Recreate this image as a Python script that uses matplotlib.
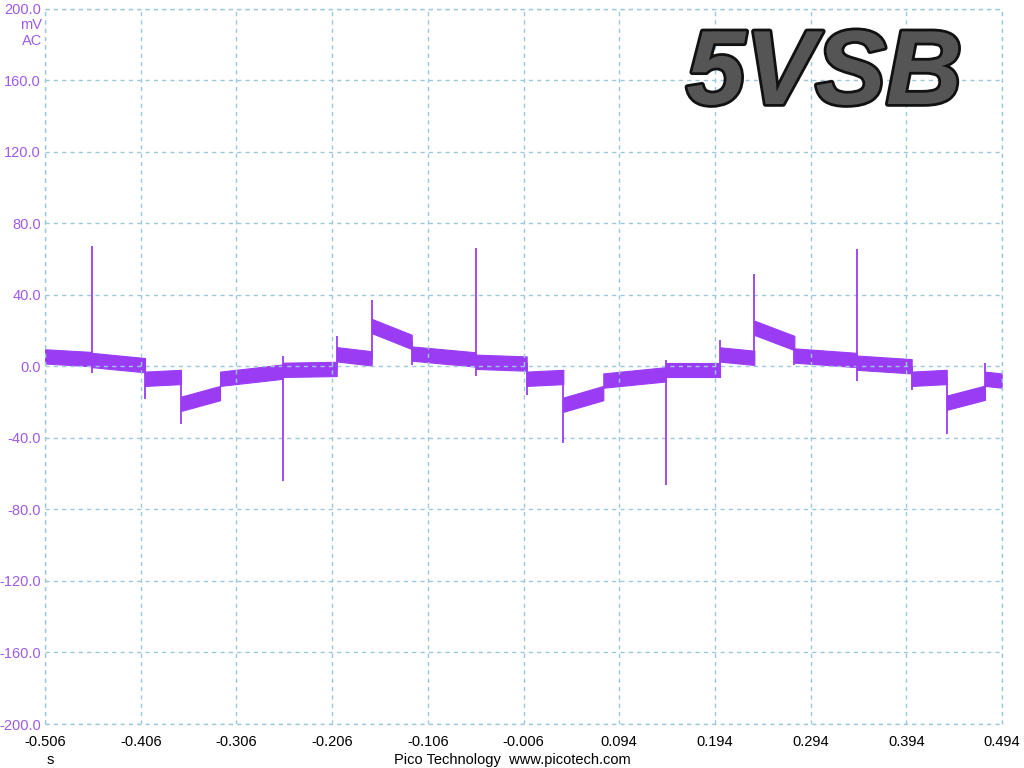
import matplotlib
matplotlib.use("Agg")
import matplotlib.pyplot as plt
import matplotlib.patheffects as pe

# ---- data ----
# segments of the noisy band: start time, end time, centre level at start, centre level at end (mV)
seg_t0 = [-0.506, -0.4572, -0.4015, -0.3639, -0.3231, -0.2573, -0.2012, -0.1646, -0.1228,
          -0.0560, -0.0027, 0.0356, 0.0774, 0.1429, 0.1993, 0.2352, 0.2770, 0.3422,
          0.3996, 0.4362, 0.4762]
seg_t1 = [-0.4572, -0.4015, -0.3639, -0.3231, -0.2573, -0.2012, -0.1646, -0.1228, -0.0560,
          -0.0027, 0.0356, 0.0774, 0.1429, 0.1993, 0.2352, 0.2770, 0.3422, 0.3996,
          0.4362, 0.4762, 0.4937]
seg_v0 = [5.5, 3.5, -7.0, -21.0, -7.0, -2.0, 6.7, 22.5, 7.1,
          2.5, -7.0, -21.5, -8.0, -2.0, 6.6, 21.5, 6.0, 2.0,
          -7.0, -20.4, -7.0]
seg_v1 = [4.0, 0.6, -6.0, -15.0, -3.0, -1.5, 4.4, 13.6, 3.8,
          1.5, -6.0, -15.0, -4.5, -2.0, 4.7, 13.0, 3.5, 0.0,
          -6.0, -14.8, -8.0]

# spikes: time, lowest value, highest value (mV)
spike_t = [-0.4572, -0.4015, -0.3639, -0.2573, -0.2012, -0.1646, -0.1228, -0.0560, -0.0027,
           0.0356, 0.1429, 0.1993, 0.2352, 0.2770, 0.3422, 0.3996, 0.4362, 0.4762]
spike_lo = [-4, -18.5, -32.5, -64, -2, 4, 0.5, -5.4, -16,
            -43, -66.6, -2, 4.7, 0.5, -8.2, -13.4, -38, -14.8]
spike_hi = [67, 3, -6, 6, 17, 37, 14, 66, 2,
            -6, 3.4, 14.5, 51.5, 13, 65.8, 0, -6, 1.8]

x_ticks = [-0.506, -0.406, -0.306, -0.206, -0.106, -0.006, 0.094, 0.194, 0.294, 0.394, 0.494]
x_labels = ["-0.506", "-0.406", "-0.306", "-0.206", "-0.106", "-0.006",
            "0.094", "0.194", "0.294", "0.394", "0.494"]
y_ticks = [-200, -160, -120, -80, -40, 0, 40, 80, 120, 160, 200]
y_labels = ["-200.0", "-160.0", "-120.0", "-80.0", "-40.0", "0.0",
            "40.0", "80.0", "120.0", "160.0", "200.0"]

# ---- style ----
trace = "#9B3CF5"
grid_c = "#9CC8DE"
ylab_c = "#A05AE8"
half = 4.0
dash = (0, (3, 3))

plt.rcParams['font.family'] = ['Liberation Sans', 'DejaVu Sans']
fig = plt.figure(figsize=(10.24, 7.68), dpi=100)
ax = fig.add_axes([45/1024, 1 - 724/768, 957/1024, (724-8.5)/768])

for t0, t1, v0, v1 in zip(seg_t0, seg_t1, seg_v0, seg_v1):
    ax.fill_between([t0, t1], [v0 - half, v1 - half], [v0 + half, v1 + half],
                    color=trace, linewidth=0.8, edgecolor=trace)
ax.vlines(spike_t, spike_lo, spike_hi, color=trace, linewidth=1.3)

ax.set_xlim(x_ticks[0], x_ticks[-1])
ax.set_ylim(-200, 200)
ax.set_xticks(x_ticks)
ax.set_xticklabels(x_labels, fontsize=10.5, color="black")
ax.set_yticks(y_ticks)
ax.set_yticklabels(y_labels, fontsize=10.5, color=ylab_c)
ax.tick_params(axis="y", length=0, pad=3)
ax.tick_params(axis="x", length=0, pad=8)
ax.grid(True, color=grid_c, linestyle=dash, linewidth=1)
for s in ax.spines.values():
    s.set_visible(False)
# dashed border like the grid
for xv in (x_ticks[0], x_ticks[-1]):
    ax.axvline(xv, color=grid_c, linestyle=dash, linewidth=1, clip_on=False)
for yv in (-200, 200):
    ax.axhline(yv, color=grid_c, linestyle=dash, linewidth=1, clip_on=False)

fig.text(42/1024, 1 - 25/768, "mV", ha="right", va="center", fontsize=10.5, color=ylab_c)
fig.text(42/1024, 1 - 41/768, "AC", ha="right", va="center", fontsize=10.5, color=ylab_c)

fig.text(50/1024, 1 - 760/768, "s", ha="center", va="center", fontsize=10.5)
fig.text(512/1024, 1 - 760/768, "Pico Technology  www.picotech.com", ha="center", va="center", fontsize=10.5)

fig.text(962/1024, 1 - 104/768, "5VSB", ha="right", va="baseline", fontsize=76,
         fontweight="bold", fontstyle="italic", color="#555555",
         path_effects=[pe.Stroke(linewidth=4, foreground="#111111"), pe.Normal()])

fig.savefig("out.png", dpi=100)
